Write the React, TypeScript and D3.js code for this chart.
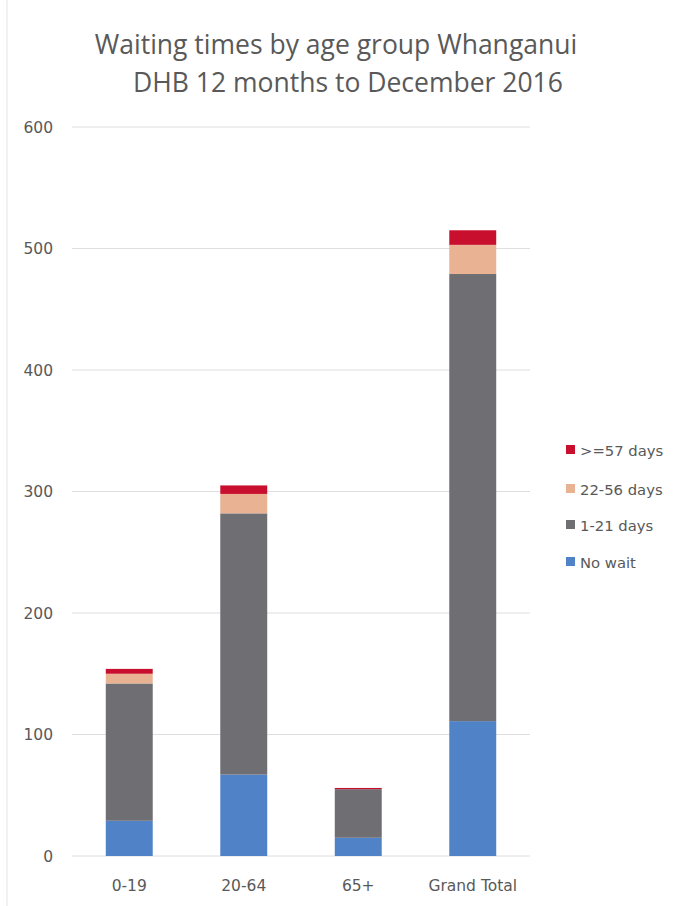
import React from "react";
import * as d3 from "d3";

const categories = ["0-19", "20-64", "65+", "Grand Total"];
const seriesNames = ["No wait", "1-21 days", "22-56 days", ">=57 days"];
const noWait = [29, 67, 15, 111];
const days1to21 = [113, 215, 40, 368];
const days22to56 = [8, 16, 0, 24];
const days57plus = [4, 7, 1, 12];
const seriesColors = ["#4f82c6", "#6e6e73", "#e8b293", "#c8102e"];
const yTicks = [0, 100, 200, 300, 400, 500, 600];
const titleLines = ["Waiting times by age group  Whanganui", "DHB 12 months to December 2016"];

const W = 685;
const H = 906;
const margin = { left: 72, right: 155, top: 127, bottom: 50 };

export default function App() {
  const rows = categories.map((c, i) => ({
    cat: c,
    "No wait": noWait[i],
    "1-21 days": days1to21[i],
    "22-56 days": days22to56[i],
    ">=57 days": days57plus[i],
  }));
  const stack = d3.stack<any>().keys(seriesNames)(rows);
  const x = d3
    .scaleBand()
    .domain(categories)
    .range([margin.left, W - margin.right])
    .paddingInner(0.59)
    .paddingOuter(0.295);
  const y = d3.scaleLinear().domain([0, 600]).range([H - margin.bottom, margin.top]);
  const titleFont = "Open Sans, Lato, sans-serif";
  const axisFont = "DejaVu Sans, Verdana, sans-serif";
  const textColor = "#595959";
  const legendY = [450, 489, 525, 562];
  const legendOrder = [3, 2, 1, 0];
  const titleX = [336, 348];
  const titleY = [54, 92];

  return (
    <svg
      width={W}
      height={H}
      style={{ position: "absolute", left: 0, top: 0, background: "#fff" }}
    >
      <rect x={0} y={0} width={W} height={H} fill="#fff" />
      <line x1={7} x2={7} y1={0} y2={H} stroke="#e4e4e4" strokeWidth={1} />
      {titleLines.map((t, i) => (
        <text
          key={i}
          x={titleX[i]}
          y={titleY[i]}
          textAnchor="middle"
          fontSize={26.5}
          fontFamily={titleFont}
          fill={textColor}
        >
          {t}
        </text>
      ))}
      {yTicks.map((t) => (
        <g key={t}>
          <line
            x1={margin.left}
            x2={W - margin.right}
            y1={y(t)}
            y2={y(t)}
            stroke="#dedede"
            strokeWidth={1}
          />
          <text
            x={53}
            y={y(t) + 5.5}
            textAnchor="end"
            fontSize={15.5}
            fontFamily={axisFont}
            fill={textColor}
          >
            {t}
          </text>
        </g>
      ))}
      {stack.map((s, si) => (
        <g key={s.key} fill={seriesColors[si]}>
          {s.map((d, i) => (
            <rect
              key={i}
              x={x(categories[i])}
              width={x.bandwidth()}
              y={y(d[1])}
              height={Math.max(0, y(d[0]) - y(d[1]))}
            />
          ))}
        </g>
      ))}
      {categories.map((c) => (
        <text
          key={c}
          x={(x(c) as number) + x.bandwidth() / 2}
          y={891}
          textAnchor="middle"
          fontSize={15.5}
          fontFamily={axisFont}
          fill={textColor}
        >
          {c}
        </text>
      ))}
      {legendOrder.map((si, k) => (
        <g key={si}>
          <rect x={566} y={legendY[k] - 5} width={9} height={9} fill={seriesColors[si]} />
          <text
            x={580}
            y={legendY[k] + 5.5}
            fontSize={14.8}
            fontFamily={axisFont}
            fill={textColor}
          >
            {seriesNames[si]}
          </text>
        </g>
      ))}
    </svg>
  );
}
